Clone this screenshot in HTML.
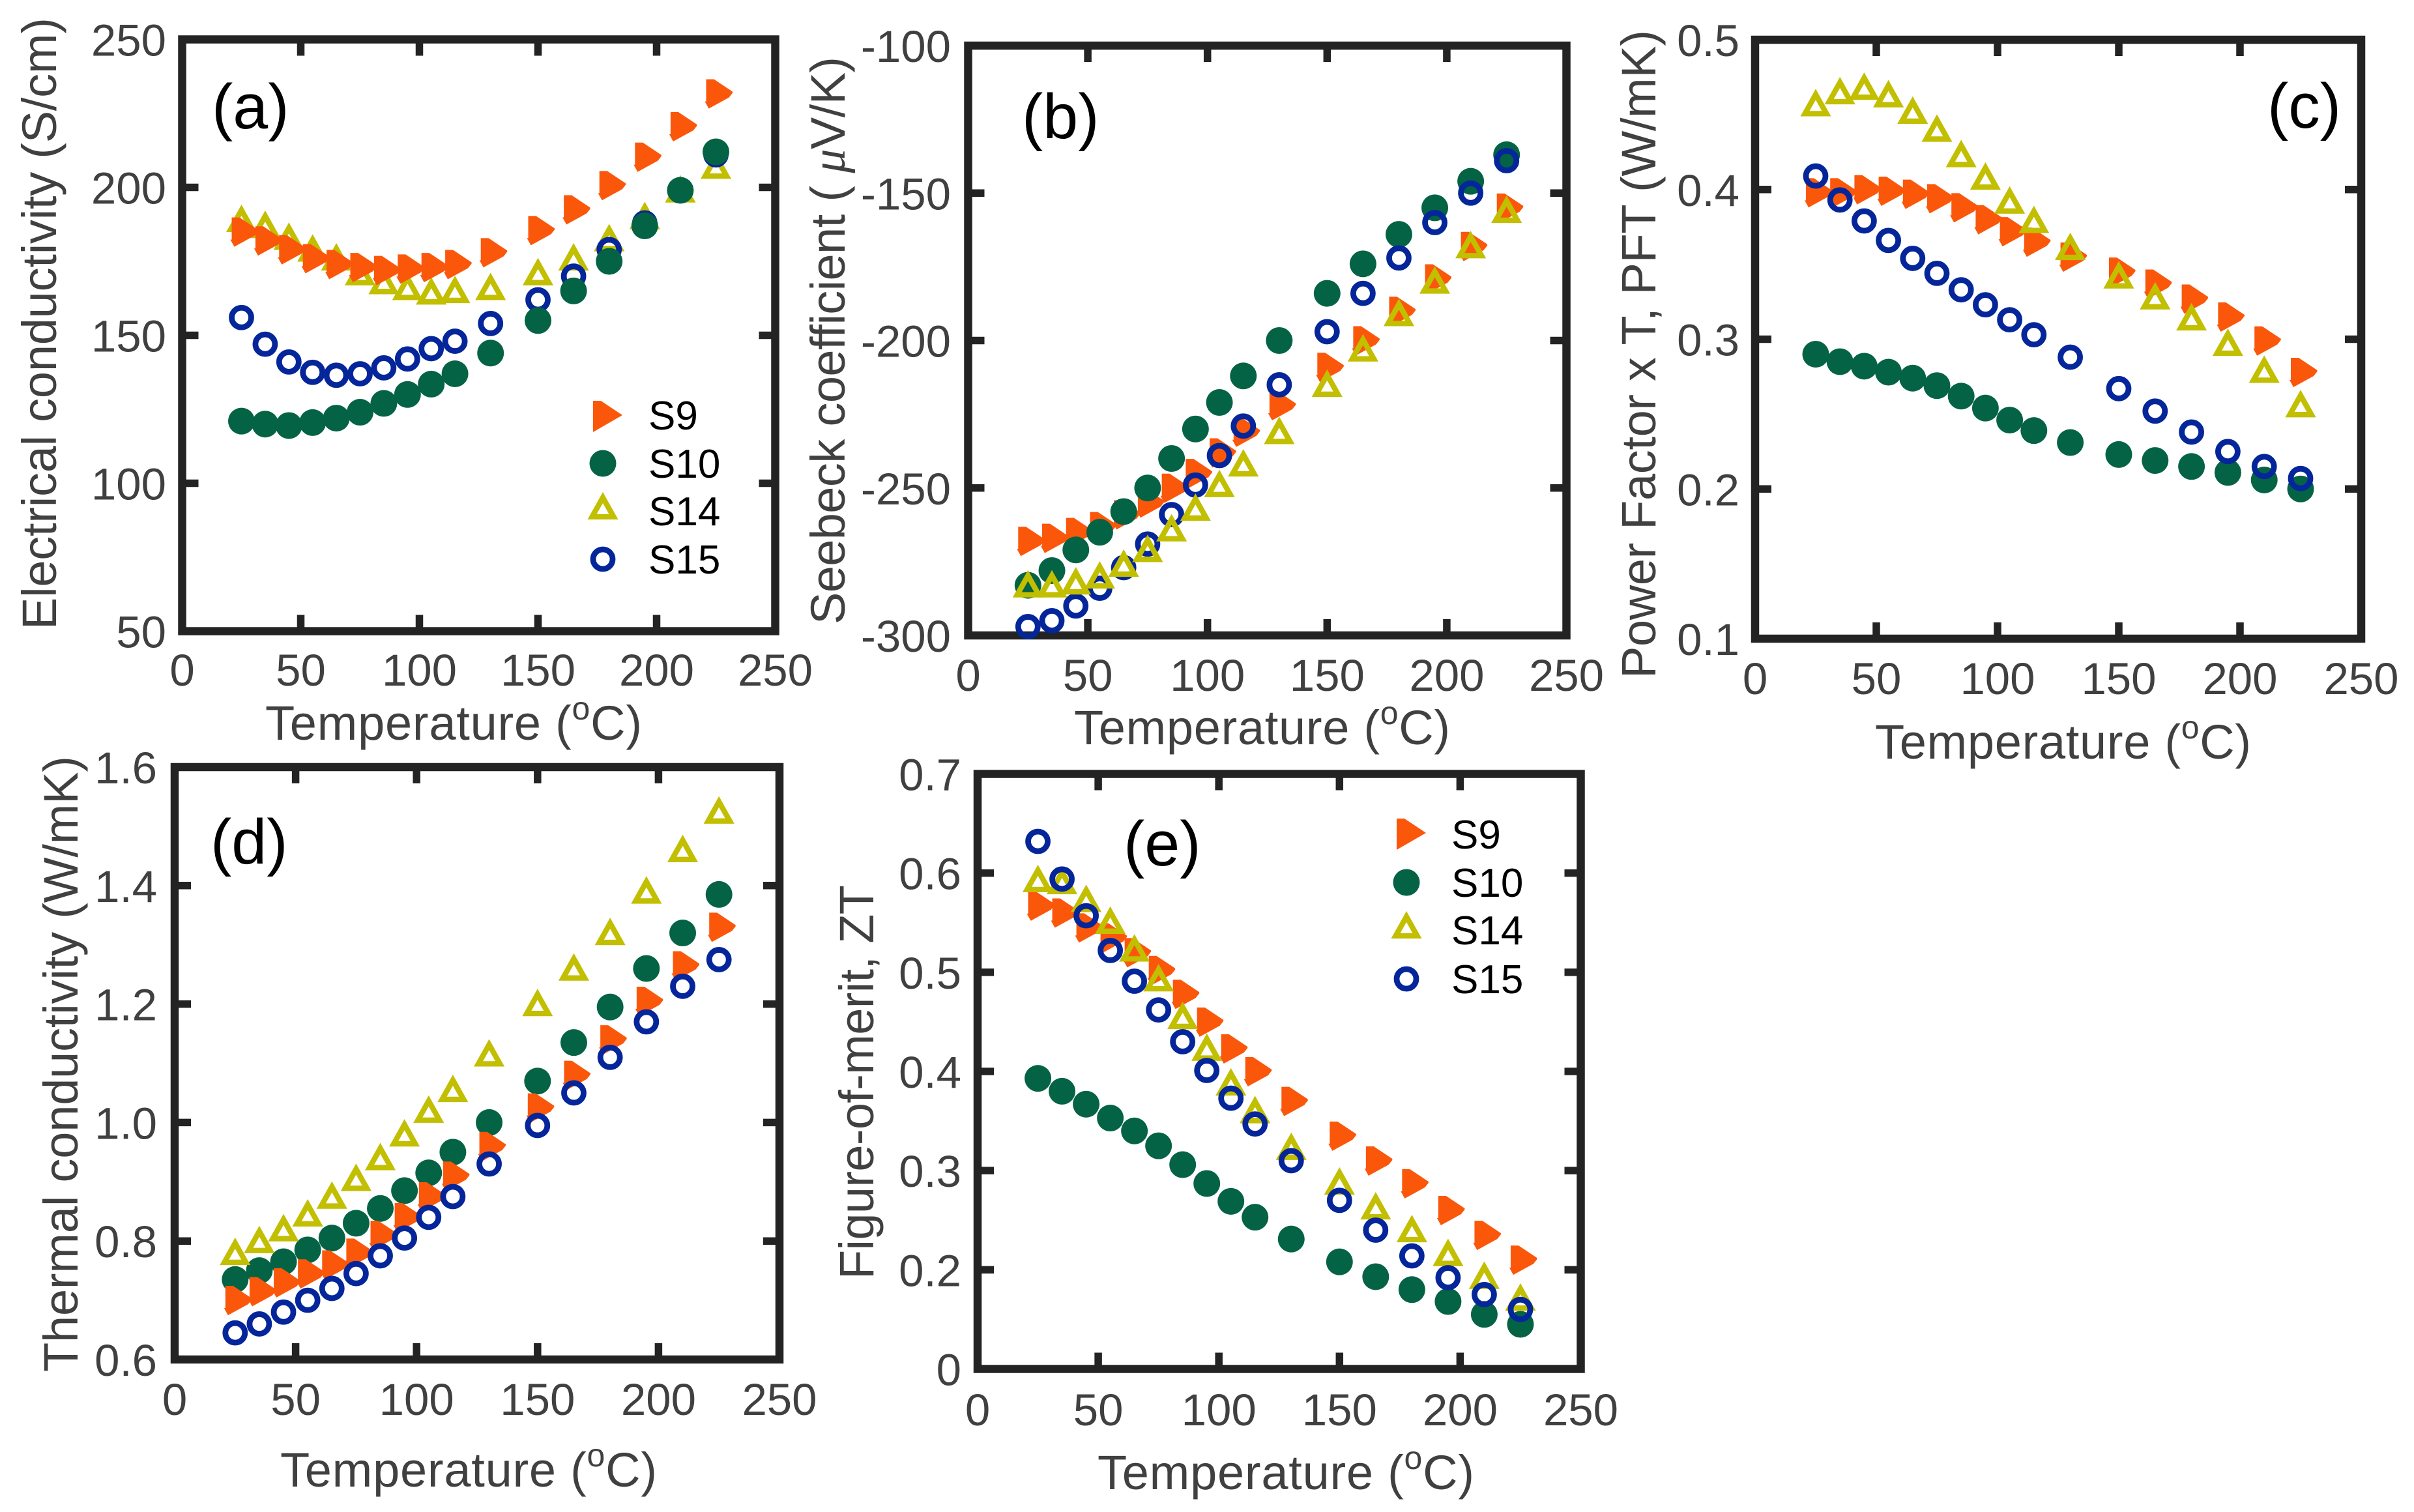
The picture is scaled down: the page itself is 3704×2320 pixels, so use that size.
<!DOCTYPE html>
<html lang="en">
<head>
<meta charset="utf-8">
<title>Thermoelectric properties versus temperature</title>
<style>
html,body{margin:0;padding:0;background:#fff;}
svg{display:block;font-family:"Liberation Sans",Arial,sans-serif;}
.frame{fill:none;stroke:#232323;stroke-width:12.5;stroke-linejoin:miter;}
.title{font-size:74px;fill:#404040;}
.panel-label{font-size:97px;fill:#000;}
.legend-text{font-size:62px;fill:#000;}
</style>
</head>
<body>
<svg id="figure" xmlns="http://www.w3.org/2000/svg" width="3704" height="2320" viewBox="0 0 3704 2320">
<rect x="0" y="0" width="3704" height="2320" fill="#fff"/>

<g id="panel-a">
<rect class="frame" x="279.5" y="60.5" width="910" height="908"/>
<text class="title" transform="translate(86,966) rotate(-90)" textLength="939">Electrical conductivity (S/cm)</text>
<text class="title" x="407" y="1135" textLength="578">Temperature (<tspan dy="-31" font-size="50">o</tspan><tspan dy="31">C)</tspan></text>
<text class="panel-label" x="325" y="197">(a)</text>
</g>

<g id="panel-b">
<rect class="frame" x="1485.5" y="70" width="918" height="905"/>
<text class="title" transform="translate(1296,958) rotate(-90)" textLength="871">Seebeck coefficient ( <tspan font-family="Liberation Serif" font-style="italic">μ</tspan>V/K)</text>
<text class="title" x="1648" y="1142" textLength="577">Temperature (<tspan dy="-31" font-size="50">o</tspan><tspan dy="31">C)</tspan></text>
<text class="panel-label" x="1568" y="212">(b)</text>
</g>

<g id="panel-c">
<rect class="frame" x="2693" y="61" width="930" height="919"/>
<text class="title" transform="translate(2540,1041) rotate(-90)" textLength="995">Power Factor x T, PFT (W/mK)</text>
<text class="title" x="2877" y="1164" textLength="577">Temperature (<tspan dy="-31" font-size="50">o</tspan><tspan dy="31">C)</tspan></text>
<text class="panel-label" x="3479" y="196">(c)</text>
</g>

<g id="panel-d">
<rect class="frame" x="268" y="1177" width="928" height="909"/>
<text class="title" transform="translate(119,2105) rotate(-90)" textLength="945">Thermal conductivity (W/mK)</text>
<text class="title" x="430" y="2281" textLength="578">Temperature (<tspan dy="-31" font-size="50">o</tspan><tspan dy="31">C)</tspan></text>
<text class="panel-label" x="323" y="1325">(d)</text>
</g>

<g id="panel-e">
<rect class="frame" x="1500" y="1187.5" width="925.5" height="913"/>
<text class="title" transform="translate(1340,1963) rotate(-90)" textLength="605">Figure-of-merit,  ZT</text>
<text class="title" x="1684" y="2285" textLength="578">Temperature (<tspan dy="-31" font-size="50">o</tspan><tspan dy="31">C)</tspan></text>
<text class="panel-label" x="1724" y="1328">(e)</text>
</g>

<g id="legend-a">
<text class="legend-text" x="995" y="659">S9</text>
<text class="legend-text" x="995" y="733">S10</text>
<text class="legend-text" x="995" y="806">S14</text>
<text class="legend-text" x="995" y="880">S15</text>
</g>
<g id="legend-e">
<text class="legend-text" x="2227" y="1302">S9</text>
<text class="legend-text" x="2227" y="1376">S10</text>
<text class="legend-text" x="2227" y="1449">S14</text>
<text class="legend-text" x="2227" y="1524">S15</text>
</g>
</svg>

<script>
// Shared categories
var temperatures = [25,35,45,55,65,75,85,95,105,115,130,150,165,180,195,210,225];
var xTickValues = [0,50,100,150,200,250];

// Panel (a): electrical conductivity
var conductivityS9  = [185,182,179,176,174,173,172,172.5,173,174,178,185.5,192.5,200.7,210.3,220.6,231.7];
var conductivityS10 = [121,120,119.5,120.5,122,124,127,130,133.5,137,144,155,165,175,187,199,212];
var conductivityS14 = [188,186,182,178,175,170,167,165,163.5,164,165,170,175,181.5,189,198,206];
var conductivityS15 = [156,147,141,137.5,136.5,137,139,142,145.5,148,154,162,170,179,188,199,211];
var conductivityTicks = [50,100,150,200,250];

// Panel (b): Seebeck coefficient
var seebeckS9  = [-268,-267,-265,-263,-259,-255,-250,-245,-238,-231,-222,-209,-200,-190,-179,-168,-155];
var seebeckS10 = [-283,-278,-271,-265,-258,-250,-240,-230,-221,-212,-200,-184,-174,-164,-155,-146,-137];
var seebeckS14 = [-284,-284,-283,-281,-277,-272,-265,-258,-250,-243,-232,-216,-204,-192,-181,-169,-157];
var seebeckS15 = [-297,-295,-290,-284,-277,-269,-259,-249,-239,-229,-215,-197,-184,-172,-160,-150,-139];
var seebeckTicks = [-300,-250,-200,-150,-100];

// Panel (c): power factor x T
var powerFactorS9  = [0.398,0.398,0.400,0.399,0.397,0.394,0.388,0.380,0.372,0.365,0.355,0.345,0.337,0.327,0.315,0.299,0.278];
var powerFactorS10 = [0.290,0.285,0.282,0.278,0.274,0.269,0.262,0.254,0.246,0.239,0.231,0.223,0.219,0.215,0.211,0.206,0.200];
var powerFactorS14 = [0.455,0.463,0.466,0.461,0.450,0.438,0.421,0.406,0.390,0.377,0.359,0.340,0.326,0.312,0.295,0.277,0.254];
var powerFactorS15 = [0.409,0.393,0.379,0.366,0.354,0.344,0.333,0.323,0.313,0.303,0.288,0.267,0.252,0.238,0.225,0.215,0.207];
var powerFactorTicks = ["0.1","0.2","0.3","0.4","0.5"];

// Panel (d): thermal conductivity
var thermalS9  = [0.700,0.715,0.730,0.745,0.760,0.780,0.810,0.840,0.875,0.910,0.960,1.025,1.080,1.140,1.205,1.265,1.330];
var thermalS10 = [0.735,0.750,0.765,0.785,0.805,0.830,0.855,0.885,0.915,0.950,1.000,1.070,1.135,1.195,1.260,1.320,1.385];
var thermalS14 = [0.775,0.795,0.815,0.840,0.870,0.900,0.935,0.975,1.015,1.050,1.110,1.195,1.255,1.315,1.385,1.455,1.520];
var thermalS15 = [0.645,0.660,0.680,0.700,0.720,0.745,0.775,0.805,0.840,0.875,0.930,0.995,1.050,1.110,1.170,1.230,1.275];
var thermalTicks = ["0.6","0.8","1.0","1.2","1.4","1.6"];

// Panel (e): figure of merit (the lowest axis position, 0.1, is printed as "0" in the source figure)
var ztS9  = [0.567,0.560,0.545,0.535,0.520,0.502,0.478,0.450,0.423,0.400,0.370,0.335,0.310,0.287,0.260,0.235,0.210];
var ztS10 = [0.393,0.380,0.367,0.353,0.340,0.325,0.306,0.287,0.269,0.253,0.231,0.208,0.193,0.180,0.168,0.155,0.145];
var ztS14 = [0.590,0.588,0.570,0.548,0.520,0.490,0.452,0.420,0.385,0.357,0.320,0.285,0.260,0.237,0.213,0.190,0.168];
var ztS15 = [0.632,0.594,0.557,0.522,0.491,0.462,0.430,0.401,0.373,0.347,0.310,0.270,0.240,0.214,0.192,0.175,0.160];
var ztTicks = [0.1,0.2,0.3,0.4,0.5,0.6,0.7];
var ztTickLabels = ["0","0.2","0.3","0.4","0.5","0.6","0.7"];

var NS = "http://www.w3.org/2000/svg";
var seriesColor = {S9:"#FB570B", S10:"#046345", S14:"#C2BE00", S15:"#05269A"};

function node(tag, parent) {
  var el = document.createElementNS(NS, tag);
  parent.appendChild(el);
  return el;
}

function drawMarker(parent, kind, cx, cy, name, isLegend) {
  var el;
  if (kind === "S9") {
    el = node("polygon", parent);
    el.setAttribute("points", isLegend
      ? "-15,-24 -3,-24 30,-2 -15,24"
      : "-15,-22 -3,-22 25.5,-3 25.5,-1 20,6 -11,23 -17,12 -15,12");
    el.setAttribute("transform", "translate(" + cx + "," + cy + ")");
    el.setAttribute("fill", seriesColor.S9);
  } else if (kind === "S10") {
    el = node("circle", parent);
    el.setAttribute("cx", cx);
    el.setAttribute("cy", cy);
    el.setAttribute("r", 20.5);
    el.setAttribute("fill", seriesColor.S10);
  } else if (kind === "S14") {
    el = node("polygon", parent);
    el.setAttribute("points", "0,-19.5 16.5,10 -16.5,10");
    el.setAttribute("transform", "translate(" + cx + "," + cy + ")");
    el.setAttribute("fill", "none");
    el.setAttribute("stroke", seriesColor.S14);
    el.setAttribute("stroke-width", 8.3);
  } else {
    el = node("circle", parent);
    el.setAttribute("cx", cx);
    el.setAttribute("cy", cy);
    el.setAttribute("r", 15);
    el.setAttribute("fill", "none");
    el.setAttribute("stroke", seriesColor.S15);
    el.setAttribute("stroke-width", 8.8);
  }
  
  
  return el;
}

function drawPanel(cfg) {
  var group = document.getElementById("panel-" + cfg.id);
  var xScale = function (v) { return cfg.left + (v / 250) * (cfg.right - cfg.left); };
  var yScale = function (v) { return cfg.bottom - (v - cfg.yMin) / (cfg.yMax - cfg.yMin) * (cfg.bottom - cfg.top); };

  xTickValues.forEach(function (tick) {
    var px = xScale(tick);
    if (tick > 0 && tick < 250) {
      [[cfg.top, cfg.top + 25], [cfg.bottom - 25, cfg.bottom]].forEach(function (span, i) {
        var mark = node("line", group);
        mark.setAttribute("x1", px);
        mark.setAttribute("x2", px);
        mark.setAttribute("y1", span[0]);
        mark.setAttribute("y2", span[1]);
        mark.setAttribute("stroke", "#232323");
        mark.setAttribute("stroke-width", 11.5);
        
        
      });
    }
    var label = node("text", group);
    label.setAttribute("x", px);
    label.setAttribute("y", cfg.xTickBaseline);
    label.setAttribute("text-anchor", "middle");
    label.setAttribute("font-size", 69);
    label.setAttribute("fill", "#404040");
    
    
    label.textContent = String(tick);
  });

  cfg.yTicks.forEach(function (tick, index) {
    var value = Number(tick);
    var py = yScale(value);
    if (value > cfg.yMin && value < cfg.yMax) {
      [[cfg.left, cfg.left + 25], [cfg.right - 25, cfg.right]].forEach(function (span, i) {
        var mark = node("line", group);
        mark.setAttribute("x1", span[0]);
        mark.setAttribute("x2", span[1]);
        mark.setAttribute("y1", py);
        mark.setAttribute("y2", py);
        mark.setAttribute("stroke", "#232323");
        mark.setAttribute("stroke-width", 11.5);
        
        
      });
    }
    var label = node("text", group);
    label.setAttribute("x", cfg.yLabelRight);
    label.setAttribute("y", py + 25);
    label.setAttribute("text-anchor", "end");
    label.setAttribute("font-size", 69);
    label.setAttribute("fill", "#404040");
    
    
    label.textContent = String(cfg.yLabels ? cfg.yLabels[index] : tick);
  });

  cfg.series.forEach(function (s) {
    var seriesGroup = node("g", group);
    
    
    s.values.forEach(function (value, i) {
      drawMarker(seriesGroup, s.kind, xScale(temperatures[i]), yScale(value),
        'point-' + s.kind.toLowerCase() + '-' + temperatures[i] + '-' + cfg.id, false);
    });
  });
}

function drawLegend(id, cx, rows) {
  var group = document.getElementById("legend-" + id);
  ["S9","S10","S14","S15"].forEach(function (kind, i) {
    drawMarker(group, kind, cx, rows[i], 'legend-marker-' + kind.toLowerCase() + '-' + id, true);
  });
}

drawPanel({id:"a", left:279.5, right:1189.5, top:60.5, bottom:968.5, yMin:50, yMax:250,
  yTicks:conductivityTicks, yLabelRight:255, xTickBaseline:1052,
  series:[{kind:"S14",values:conductivityS14},{kind:"S9",values:conductivityS9},{kind:"S15",values:conductivityS15},{kind:"S10",values:conductivityS10}]});

drawPanel({id:"b", left:1485.5, right:2403.5, top:70, bottom:975, yMin:-300, yMax:-100,
  yTicks:seebeckTicks, yLabelRight:1459, xTickBaseline:1060,
  series:[{kind:"S9",values:seebeckS9},{kind:"S10",values:seebeckS10},{kind:"S15",values:seebeckS15},{kind:"S14",values:seebeckS14}]});

drawPanel({id:"c", left:2693, right:3623, top:61, bottom:980, yMin:0.1, yMax:0.5,
  yTicks:powerFactorTicks, yLabelRight:2669, xTickBaseline:1065,
  series:[{kind:"S9",values:powerFactorS9},{kind:"S10",values:powerFactorS10},{kind:"S14",values:powerFactorS14},{kind:"S15",values:powerFactorS15}]});

drawPanel({id:"d", left:268, right:1196, top:1177, bottom:2086, yMin:0.6, yMax:1.6,
  yTicks:thermalTicks, yLabelRight:241, xTickBaseline:2171,
  series:[{kind:"S10",values:thermalS10},{kind:"S9",values:thermalS9},{kind:"S14",values:thermalS14},{kind:"S15",values:thermalS15}]});

drawPanel({id:"e", left:1500, right:2425.5, top:1187.5, bottom:2100.5, yMin:0.1, yMax:0.7,
  yTicks:ztTicks, yLabels:ztTickLabels, yLabelRight:1475, xTickBaseline:2187,
  series:[{kind:"S9",values:ztS9},{kind:"S10",values:ztS10},{kind:"S14",values:ztS14},{kind:"S15",values:ztS15}]});

drawLegend("a", 925, [639,711,783,858]);
drawLegend("e", 2158, [1280,1354,1426,1502]);
</script>
</body>
</html>
